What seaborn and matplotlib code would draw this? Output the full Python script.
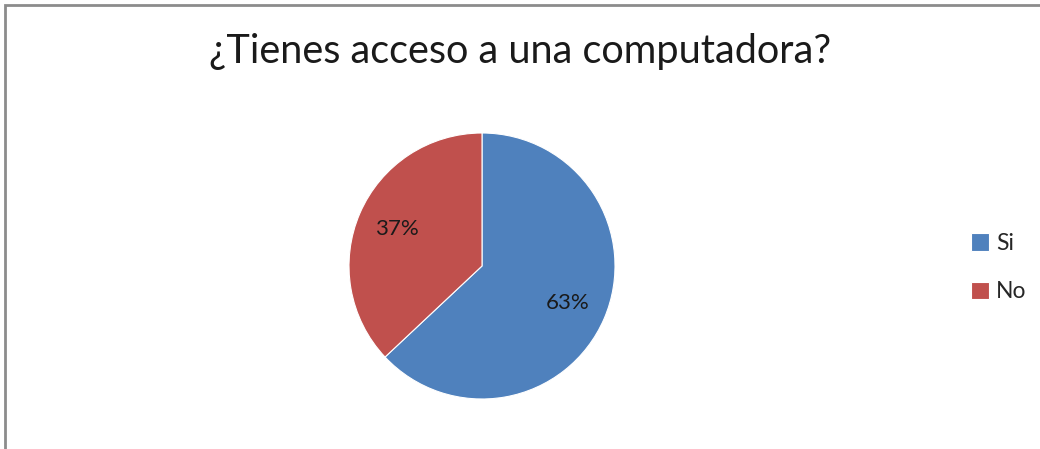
import matplotlib.pyplot as plt
import matplotlib.patches as mpatches
import seaborn as sns

categories = ["Si", "No"]
percentages = [63, 37]
colors = ["#4F81BD", "#C0504D"]

sns.set_theme(style="white")
plt.rcParams['font.family'] = ['Lato', 'DejaVu Sans']

fig = plt.figure(figsize=(10.4, 4.49), dpi=100)

# eje del pastel, cuadrado, centrado en (482, 266) px
ax = fig.add_axes([349 / 1040, 50 / 449, 266 / 1040, 266 / 449])
wedges, texts, autotexts = ax.pie(
    percentages, colors=colors, startangle=90, counterclock=False,
    autopct='%d%%', pctdistance=0.70,
    wedgeprops=dict(linewidth=0.8, edgecolor='white'),
    textprops=dict(fontsize=16, color='#1a1a1a'))
ax.set_xlim(-1, 1)
ax.set_ylim(-1, 1)
ax.set_aspect('equal')

fig.text(0.5, 1 - 52 / 449, '¿Tienes acceso a una computadora?',
         ha='center', va='center', fontsize=28.5, color='#1a1a1a')

fig.legend(wedges, categories, loc='upper left',
           bbox_to_anchor=(971 / 1040, 1 - 233 / 449), frameon=False,
           fontsize=16.5, handlelength=0.8, handleheight=0.8,
           handletextpad=0.3, labelspacing=1.2, borderpad=0,
           borderaxespad=0)

# borde del área del gráfico (recortado a la derecha y abajo)
border = mpatches.Rectangle((5 / 1040, -0.1), 1.2, 1 - 5 / 449 + 0.1,
                            transform=fig.transFigure, fill=False,
                            edgecolor='#8c8c8c', linewidth=2)
fig.patches.append(border)

fig.savefig('out.png', dpi=100)
